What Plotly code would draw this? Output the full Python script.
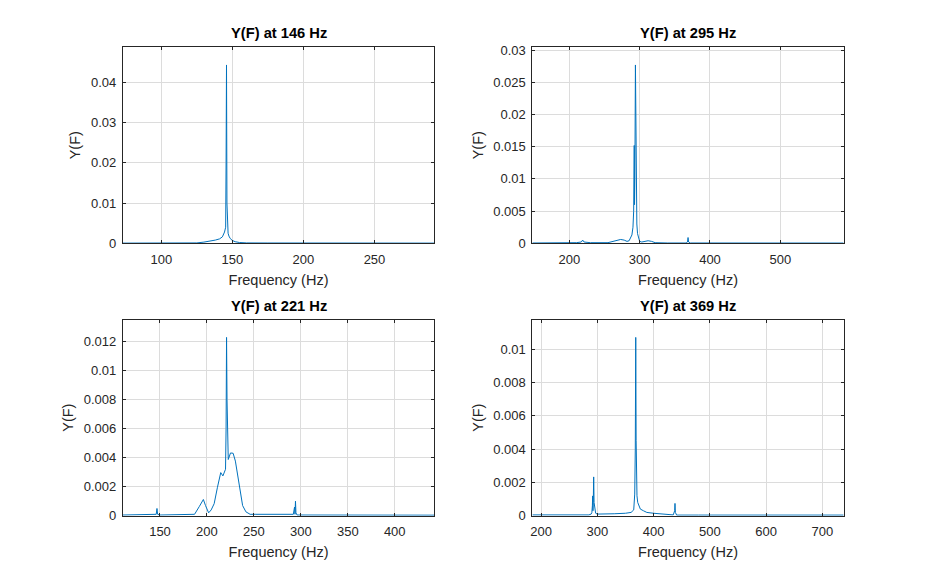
import plotly.graph_objects as go

# ---- data ----
titles = ["Y(F) at 146 Hz", "Y(F) at 295 Hz", "Y(F) at 221 Hz", "Y(F) at 369 Hz"]
centers = [146, 295, 221, 369]

f1 = [73, 90, 110, 125, 130, 134, 138, 141, 143, 144.5, 145.3, 145.6, 145.9, 146.2, 146.5,
      147, 147.6, 148.5, 150, 152, 155, 160, 175, 200, 230, 260, 292]
y1 = [0.00005, 0.00005, 0.00005, 0.0001, 0.0003, 0.0005, 0.0008, 0.0011, 0.0016, 0.0028, 0.0040,
      0.020, 0.0443, 0.0100, 0.0037, 0.0025, 0.0018, 0.0012, 0.0007, 0.0004, 0.0002, 0.0001,
      0.00008, 0.00006, 0.00005, 0.00005, 0.00005]

f2 = [147.5, 180, 210, 217, 219, 221, 230, 255, 262, 268, 273, 278, 282, 285, 287, 289, 290.5,
      291.5, 292.3, 292.7, 293.2, 294.0, 294.6, 295.2, 296, 297, 298.5, 300, 303, 307, 312, 317,
      322, 340, 366, 368, 368.8, 369.6, 372, 400, 450, 500, 590]
y2 = [0.00005, 0.00005, 0.0001, 0.0002, 0.0005, 0.0002, 0.0001, 0.0001, 0.0003, 0.0005, 0.0006,
      0.0005, 0.0003, 0.0004, 0.0008, 0.0013, 0.0025, 0.0050, 0.0152, 0.0060, 0.0100, 0.0277,
      0.0120, 0.0060, 0.0030, 0.0015, 0.0007, 0.0003, 0.0002, 0.0003, 0.0004, 0.0003, 0.0001,
      0.00005, 0.00005, 0.0002, 0.0009, 0.0002, 0.00005, 0.00005, 0.00004, 0.00004, 0.00004]

f3 = [110.5, 130, 146, 146.8, 147.5, 150, 170, 180, 186.8, 192, 196.2, 198.5, 201.8, 204.5,
      207.7, 211.2, 214.7, 217, 218.8, 219.8, 220.4, 220.9, 221.4, 222, 222.7, 225.1, 227.9,
      230.3, 233.1, 235.5, 238, 241.5, 246, 252, 260, 270, 280, 292, 293.3, 293.8, 294.3, 294.8,
      296, 310, 350, 400, 442]
y3 = [0.00005, 0.00005, 0.0001, 0.0005, 0.0001, 0.00005, 0.00005, 0.00005, 0.0001, 0.00065,
      0.00112, 0.0007, 0.0002, 0.0004, 0.00083, 0.00196, 0.00297, 0.00274, 0.0030, 0.0032,
      0.0060, 0.01227, 0.0080, 0.0045, 0.00387, 0.00432, 0.0043, 0.00376, 0.00263, 0.0015,
      0.0007, 0.00027, 0.0001, 0.0001, 0.0001, 0.00008, 0.00005, 0.0001, 0.0006, 0.0001, 0.0010,
      0.0002, 0.00005, 0.00005, 0.00005, 0.00004, 0.00004]

f4 = [184.5, 200, 230, 260, 285, 289, 290.3, 291.2, 291.7, 292.2, 292.8, 293.5, 294.2, 295.6,
      297, 300, 310, 330, 350, 360, 364.7, 366.5, 367.5, 368.3, 369.0, 369.5, 370.5, 371.8, 374,
      376.5, 382, 388, 400, 415, 425, 435, 437.5, 438.1, 438.8, 441, 480, 550, 650, 738]
y4 = [0.00005, 0.00005, 0.00004, 0.00005, 0.00005, 0.0001, 0.0002, 0.0006, 0.00119, 0.0003,
      0.0008, 0.00233, 0.0008, 0.0003, 0.00015, 0.0001, 0.0001, 0.00012, 0.00015, 0.0002,
      0.00035, 0.0013, 0.004, 0.0107, 0.0045, 0.0016, 0.0012, 0.0008, 0.0006, 0.0004, 0.0003,
      0.0002, 0.00015, 0.0001, 0.00005, 0.00005, 0.0003, 0.00074, 0.0002, 0.00004, 0.00004,
      0.00004, 0.00004, 0.00004]

xticks = [[100, 150, 200, 250], [200, 300, 400, 500],
          [150, 200, 250, 300, 350, 400], [200, 300, 400, 500, 600, 700]]
yticks = [[0, 0.01, 0.02, 0.03, 0.04],
          [0, 0.005, 0.01, 0.015, 0.02, 0.025, 0.03],
          [0, 0.002, 0.004, 0.006, 0.008, 0.01, 0.012],
          [0, 0.002, 0.004, 0.006, 0.008, 0.01]]
ytext = [["0", "0.01", "0.02", "0.03", "0.04"],
         ["0", "0.005", "0.01", "0.015", "0.02", "0.025", "0.03"],
         ["0", "0.002", "0.004", "0.006", "0.008", "0.01", "0.012"],
         ["0", "0.002", "0.004", "0.006", "0.008", "0.01"]]

freqs = [f1, f2, f3, f4]
vals = [y1, y2, y3, y4]

# ---- layout ----
xdom = [[0.13, 0.4647], [0.5703, 0.9050], [0.13, 0.4647], [0.5703, 0.9050]]
ydom = [[0.5838, 0.9250], [0.5838, 0.9250], [0.11, 0.4512], [0.11, 0.4512]]

FONT = "Liberation Sans, Arial, Helvetica, sans-serif"
AX = "#262626"
GRID = "#dcdcdc"

fig = go.Figure()
layout = dict(width=932, height=587, margin=dict(l=0, r=0, t=0, b=0),
              paper_bgcolor="white", plot_bgcolor="white", showlegend=False,
              font=dict(family=FONT, color=AX, size=13))
annotations = []
for i in range(4):
    n = "" if i == 0 else str(i + 1)
    fig.add_trace(go.Scatter(x=freqs[i], y=vals[i], mode="lines",
                             line=dict(color="#0072BD", width=1),
                             xaxis="x" + n, yaxis="y" + n, hoverinfo="skip"))
    ymax = max(vals[i]) * 1.1
    layout["xaxis" + n] = dict(domain=xdom[i], anchor="y" + n,
                               range=[centers[i] / 2, centers[i] * 2],
                               tickvals=xticks[i], ticks="inside", ticklen=3, tickcolor=AX,
                               showline=True, linecolor=AX, linewidth=1, mirror="ticks",
                               showgrid=True, gridcolor=GRID, gridwidth=1, zeroline=False,
                               tickfont=dict(size=13, color=AX, family=FONT),
                               ticklabelstandoff=4,
                               title=dict(text="Frequency (Hz)", standoff=8,
                                          font=dict(size=14.5, color=AX, family=FONT)))
    layout["yaxis" + n] = dict(domain=ydom[i], anchor="x" + n, range=[0, ymax],
                               tickvals=yticks[i], ticktext=ytext[i],
                               ticks="inside", ticklen=3, tickcolor=AX,
                               showline=True, linecolor=AX, linewidth=1, mirror="ticks",
                               showgrid=True, gridcolor=GRID, gridwidth=1, zeroline=False,
                               tickfont=dict(size=13, color=AX, family=FONT),
                               ticklabelstandoff=3,
                               title=dict(text="Y(F)", standoff=6,
                                          font=dict(size=14.5, color=AX, family=FONT)))
    annotations.append(dict(text="<b>" + titles[i] + "</b>", xref="paper", yref="paper",
                            x=(xdom[i][0] + xdom[i][1]) / 2, y=ydom[i][1],
                            xanchor="center", yanchor="bottom", yshift=4, showarrow=False,
                            font=dict(size=14.7, color="black", family=FONT)))
layout["annotations"] = annotations
fig.update_layout(**layout)
fig.write_html("out.html")
